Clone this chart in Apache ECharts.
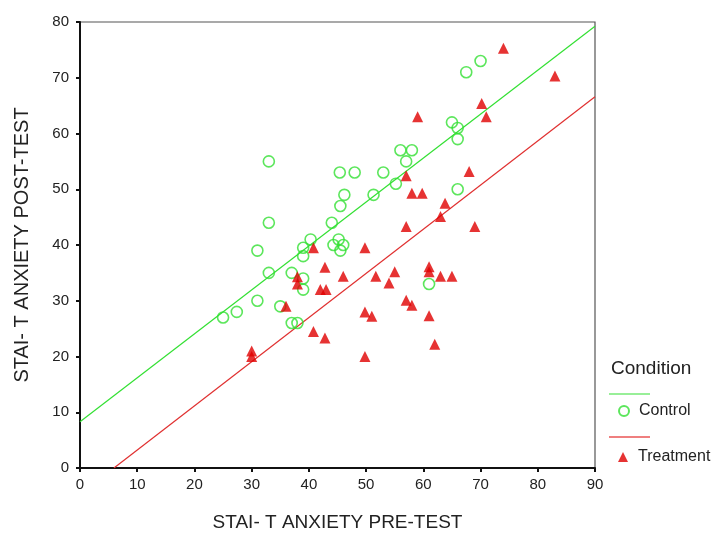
<!DOCTYPE html>
<html>
<head>
<meta charset="utf-8">
<script src="https://cdn.jsdelivr.net/npm/echarts@6/dist/echarts.min.js"></script>
<style>html,body{margin:0;padding:0;background:#fff}#c{width:716px;height:547px}</style>
</head>
<body>
<div id="c"></div>
<script>
// Control group: [pre-test, post-test]
const controlPoints = [
  [25, 27], [27.4, 28], [31, 30], [31, 39], [33, 55], [33, 44], [33, 35], [35, 29],
  [37, 35], [37, 26], [38, 26], [39, 39.5], [39, 38], [39, 34], [39, 32], [40.3, 41],
  [44, 44], [44.3, 40], [45.2, 41], [45.5, 39], [46, 40], [45.5, 47], [46.2, 49],
  [45.4, 53], [48, 53], [51.3, 49], [53, 53], [55.2, 51], [56, 57], [58, 57], [57, 55],
  [61, 33], [65, 62], [66, 61], [66, 59], [66, 50], [67.5, 71], [70, 73]
];
// Treatment group: [pre-test, post-test]
const treatmentPoints = [
  [30, 21], [30, 20], [36, 29], [38, 34.3], [38, 33], [40.8, 39.5], [40.8, 24.5],
  [42, 32], [43, 32], [42.8, 36], [42.8, 23.3], [46, 34.4], [49.8, 39.5], [49.8, 28],
  [51, 27.2], [49.8, 20], [51.7, 34.4], [54, 33.2], [55, 35.2], [57, 52.4], [57, 43.3],
  [57, 30.1], [58, 29.2], [58, 49.3], [59, 63], [59.8, 49.3], [61, 36.1], [61, 35.2],
  [61, 27.3], [62, 22.2], [63, 45.1], [63, 34.4], [63.8, 47.5], [65, 34.4], [68, 53.2],
  [69, 43.3], [70.2, 65.4], [71, 63], [74, 75.3], [83, 70.3]
];
// Fitted regression lines: [intercept, slope]
const controlFit = [8.3, 0.788];
const treatmentFit = [-4.7, 0.792];
const xTicks = [0, 10, 20, 30, 40, 50, 60, 70, 80, 90];
const yTicks = [0, 10, 20, 30, 40, 50, 60, 70, 80];

const X_MIN = xTicks[0], X_MAX = xTicks[xTicks.length - 1];
const Y_MIN = yTicks[0], Y_MAX = yTicks[yTicks.length - 1];
function fitLine(fit) {
  const b = fit[0], m = fit[1];
  let x0 = X_MIN, x1 = X_MAX;
  if (b + m * x0 < Y_MIN) x0 = (Y_MIN - b) / m;
  if (b + m * x1 > Y_MAX) x1 = (Y_MAX - b) / m;
  return [[x0, b + m * x0], [x1, b + m * x1]];
}

const GREEN = '#33e033';
const RED = '#e00000';
const FONT = 'Liberation Sans';

const chart = echarts.init(document.getElementById('c'), null, {renderer: 'canvas'});
chart.setOption({
  animation: false,
  backgroundColor: '#fff',
  textStyle: {fontFamily: FONT},
  grid: {left: 80, right: 121, top: 22, bottom: 79, show: true, borderColor: '#555', borderWidth: 1.2, backgroundColor: 'transparent'},
  xAxis: {
    type: 'value', min: X_MIN, max: X_MAX, interval: 10,
    name: 'STAI- T ANXIETY PRE-TEST', nameLocation: 'middle', nameGap: 45,
    nameTextStyle: {fontSize: 19, color: '#222', fontFamily: FONT},
    axisLine: {lineStyle: {color: '#111', width: 2}},
    axisTick: {show: true, length: 4, lineStyle: {color: '#111', width: 2}},
    axisLabel: {fontSize: 15, color: '#222', margin: 9, fontFamily: FONT},
    splitLine: {show: false}
  },
  yAxis: {
    type: 'value', min: Y_MIN, max: Y_MAX, interval: 10,
    name: 'STAI- T ANXIETY POST-TEST', nameLocation: 'middle', nameGap: 48,
    nameTextStyle: {fontSize: 20, color: '#222', fontFamily: FONT},
    axisLine: {lineStyle: {color: '#111', width: 2}},
    axisTick: {show: true, length: 4, lineStyle: {color: '#111', width: 2}},
    axisLabel: {fontSize: 15, color: '#222', margin: 11, fontFamily: FONT},
    splitLine: {show: false}
  },
  legend: [
    {
      data: [{name: 'Control', icon: 'circle'}],
      left: 618, top: 403, padding: 0, itemWidth: 10, itemHeight: 10,
      textStyle: {fontSize: 16, color: '#222', fontFamily: FONT, padding: [0, 0, 0, 5]}
    },
    {
      data: [{name: 'Treatment', icon: 'triangle'}],
      left: 618, top: 449, padding: 0, itemWidth: 10, itemHeight: 10,
      textStyle: {fontSize: 16, color: '#222', fontFamily: FONT, padding: [0, 0, 0, 5]}
    }
  ],
  graphic: [
    {type: 'text', left: 611, top: 359, style: {text: 'Condition', fontSize: 19, fill: '#222', fontFamily: FONT}},
    {type: 'line', shape: {x1: 609, y1: 394, x2: 650, y2: 394}, style: {stroke: GREEN, lineWidth: 1.2}},
    {type: 'line', shape: {x1: 609, y1: 437, x2: 650, y2: 437}, style: {stroke: RED, lineWidth: 1.2}}
  ],
  series: [
    {
      name: 'Control fit', type: 'line', data: fitLine(controlFit), symbol: 'none',
      lineStyle: {color: GREEN, width: 1.2}, z: 1, silent: true
    },
    {
      name: 'Treatment fit', type: 'line', data: fitLine(treatmentFit), symbol: 'none',
      lineStyle: {color: '#e03030', width: 1.2}, z: 1, silent: true
    },
    {
      name: 'Control', type: 'scatter', data: controlPoints, symbol: 'circle', symbolSize: 11,
      itemStyle: {color: 'rgba(255,255,255,0)', borderColor: GREEN, borderWidth: 1.6}, z: 3
    },
    {
      name: 'Treatment', type: 'scatter', data: treatmentPoints, symbol: 'triangle', symbolSize: 11,
      itemStyle: {color: RED}, z: 4
    }
  ]
});
</script>
</body>
</html>
